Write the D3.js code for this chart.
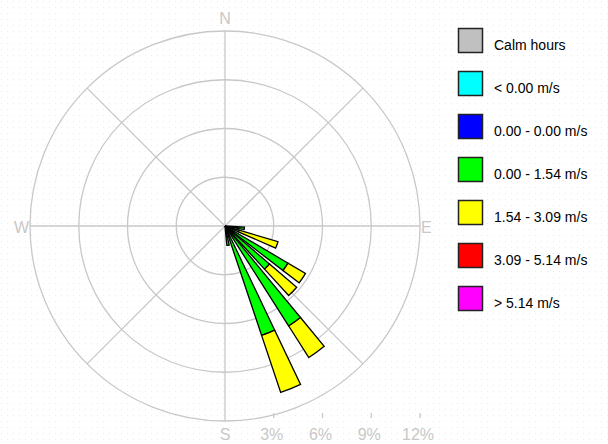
<!DOCTYPE html>
<html>
<head>
<meta charset="utf-8">
<script src="https://cdn.jsdelivr.net/npm/d3@7"></script>
<style>
  html, body { margin: 0; padding: 0; background: #ffffff; }
  svg { display: block; }
  text { font-family: "Liberation Sans", Arial, sans-serif; }
</style>
</head>
<body>
<svg id="rose" width="608" height="444"></svg>
<script>
// Wind direction sectors (bearing in degrees, clockwise from north)
const directions = [97, 110, 124, 134, 144, 158, 171];
// Frequency (%) per speed class for each direction
const speed0to154 = [1.2, 0.9, 4.5, 3.6, 7.3, 7.1, 1.2];
const speed154to309 = [0.0, 2.5, 1.25, 2.2, 2.3, 3.7, 0.0];

const speedClasses = ["0.00 - 1.54 m/s", "1.54 - 3.09 m/s"];
const classColors = ["#00ff00", "#ffff00"];

const legendLabels = ["Calm hours", "< 0.00 m/s", "0.00 - 0.00 m/s", "0.00 - 1.54 m/s",
                      "1.54 - 3.09 m/s", "3.09 - 5.14 m/s", "> 5.14 m/s"];
const legendColors = ["#c0c0c0", "#00ffff", "#0000ff", "#00ff00", "#ffff00", "#ff0000", "#ff00ff"];

const ringTicks = [3, 6, 9, 12];
const tickLabels = ["3%", "6%", "9%", "12%"];
const compass = [{label: "N", deg: 0}, {label: "E", deg: 90}, {label: "S", deg: 180}, {label: "W", deg: 270}];

const svg = d3.select("#rose");
const cx = 225, cy = 226;
const gridColor = "#c8c8c8";

// faint dotted backdrop
const defs = svg.append("defs");
const pat = defs.append("pattern").attr("id", "dots")
  .attr("width", 6).attr("height", 6).attr("patternUnits", "userSpaceOnUse");
pat.append("rect").attr("x", 1).attr("y", 1).attr("width", 1).attr("height", 1).attr("fill", "#ececec");
svg.append("rect").attr("width", 608).attr("height", 444).attr("fill", "url(#dots)");

const r = d3.scaleLinear().domain([0, 12]).range([0, 195]);
const g = svg.append("g").attr("transform", `translate(${cx},${cy})`);

// rings
g.selectAll("circle.ring").data(ringTicks).join("circle")
  .attr("class", "ring").attr("r", d => r(d))
  .attr("fill", "none").attr("stroke", gridColor).attr("stroke-width", 1.3);

// spokes every 45 degrees
const spokeAngles = d3.range(0, 360, 45);
g.selectAll("line.spoke").data(spokeAngles).join("line")
  .attr("class", "spoke")
  .attr("x1", 0).attr("y1", 0)
  .attr("x2", d => r(12) * Math.sin(d * Math.PI / 180))
  .attr("y2", d => -r(12) * Math.cos(d * Math.PI / 180))
  .attr("stroke", gridColor).attr("stroke-width", 1.3);

// compass letters
const compassPos = {
  N: [0, -r(12) - 7, "middle"],
  S: [0, r(12) + 19, "middle"],
  E: [r(12) + 1, 7, "start"],
  W: [-r(12) - 1, 7, "end"]
};
g.selectAll("text.compass").data(compass).join("text")
  .attr("class", "compass")
  .attr("x", d => compassPos[d.label][0])
  .attr("y", d => compassPos[d.label][1])
  .attr("text-anchor", d => compassPos[d.label][2])
  .attr("font-size", 16).attr("fill", gridColor)
  .text(d => d.label);

// percentage scale along the bottom
const scaleY = r(12) - 3;
g.selectAll("line.tick").data(ringTicks).join("line")
  .attr("class", "tick")
  .attr("x1", d => r(d)).attr("x2", d => r(d))
  .attr("y1", scaleY - 5).attr("y2", scaleY)
  .attr("stroke", gridColor).attr("stroke-width", 1.3);
g.selectAll("text.tick").data(ringTicks).join("text")
  .attr("class", "tick")
  .attr("x", d => r(d) - 2).attr("y", r(12) + 19)
  .attr("text-anchor", "middle").attr("font-size", 16).attr("fill", gridColor)
  .text((d, i) => tickLabels[i]);

// stacked wedges
const halfWidth = 3.5 * Math.PI / 180;
const stacked = directions.map((dir, i) => {
  const vals = [speed0to154[i], speed154to309[i]];
  let acc = 0;
  return vals.map((v, k) => {
    const seg = {dir, k, from: acc, to: acc + v};
    acc += v;
    return seg;
  }).filter(s => s.to > s.from);
}).flat();

const arc = d3.arc()
  .innerRadius(d => r(d.from))
  .outerRadius(d => r(d.to))
  .startAngle(d => d.dir * Math.PI / 180 - halfWidth)
  .endAngle(d => d.dir * Math.PI / 180 + halfWidth);

g.selectAll("path.bar").data(stacked).join("path")
  .attr("class", "bar")
  .attr("d", arc)
  .attr("fill", d => classColors[d.k])
  .attr("stroke", "#000").attr("stroke-width", 1.3).attr("stroke-linejoin", "miter");

// legend
const lg = svg.append("g").attr("transform", "translate(458,28)");
const item = lg.selectAll("g.item").data(legendLabels).join("g")
  .attr("class", "item").attr("transform", (d, i) => `translate(0,${i * 43})`);
item.append("rect").attr("x", 0.5).attr("y", 0.5).attr("width", 24).attr("height", 24)
  .attr("fill", (d, i) => legendColors[i]).attr("stroke", "#222").attr("stroke-width", 1.5);
item.append("text").attr("x", 36).attr("y", 22)
  .attr("font-size", 14).attr("fill", "#000").text(d => d);
</script>
</body>
</html>
